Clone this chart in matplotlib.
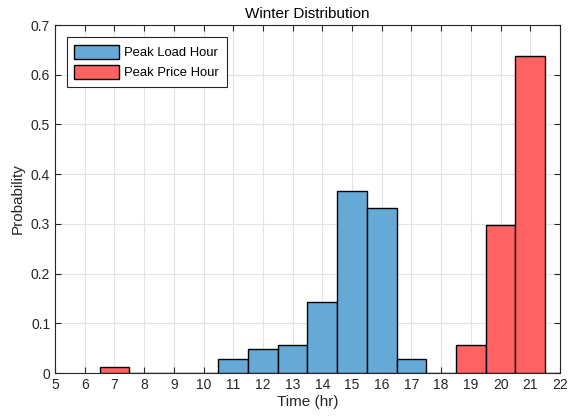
import matplotlib.pyplot as plt
import numpy as np

plt.rcParams['font.family'] = ['Liberation Sans', 'DejaVu Sans']

# Histogram bins (hour centers) and probabilities
load_hours = [11, 12, 13, 14, 15, 16, 17, 18]
load_prob = [0.029, 0.048, 0.057, 0.143, 0.367, 0.331, 0.029, 0.0]

price_hours = [7, 8, 9, 10, 19, 20, 21, 22]
price_prob = [0.012, 0.0, 0.0, 0.0, 0.056, 0.297, 0.637, 0.0]

fig = plt.figure(figsize=(5.71, 4.17), dpi=100)
ax = fig.add_axes([0.0963, 0.1055, 0.8844, 0.8345])

ax.bar(load_hours, load_prob, width=1.0, color='#65a9d7', edgecolor='black',
       linewidth=1.0, label='Peak Load Hour', zorder=3)
ax.bar(price_hours, price_prob, width=1.0, color='#ff6262', edgecolor='black',
       linewidth=1.0, label='Peak Price Hour', zorder=3)

ax.set_xlim(5, 22)
ax.set_ylim(0, 0.7)
ax.set_xticks(np.arange(5, 23, 1))
ax.set_yticks(np.arange(0, 0.71, 0.1))
ax.set_yticklabels(['0', '0.1', '0.2', '0.3', '0.4', '0.5', '0.6', '0.7'])
ax.grid(True, color='#e3e3e3', linewidth=0.8, zorder=0)
ax.set_axisbelow(True)
ax.tick_params(direction='in', top=True, right=True, labelsize=10,
               colors='#262626', length=4)
for s in ax.spines.values():
    s.set_color('#262626')
    s.set_linewidth(0.8)

ax.set_title('Winter Distribution', fontsize=11, color='#000000', pad=5)
ax.set_xlabel('Time (hr)', fontsize=11, color='#262626', labelpad=2)
ax.set_ylabel('Probability', fontsize=11, color='#262626', labelpad=4)

leg = ax.legend(loc='upper left', fontsize=9.4, fancybox=False, framealpha=1,
                edgecolor='#262626', handlelength=3.4, handleheight=1.3,
                borderpad=0.6, labelspacing=0.45, handletextpad=0.4,
                bbox_to_anchor=(0.01, 0.985))
leg.get_frame().set_linewidth(0.8)

fig.savefig('out.png', dpi=100)
